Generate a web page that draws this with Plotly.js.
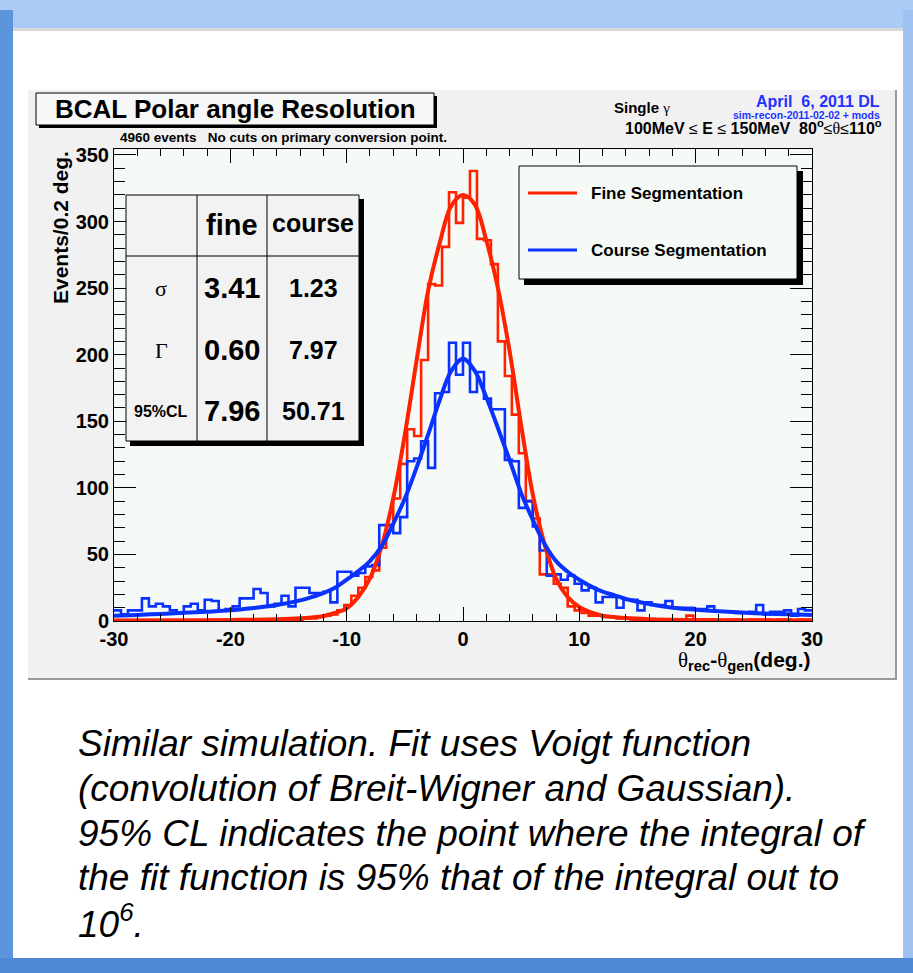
<!DOCTYPE html>
<html><head><meta charset="utf-8">
<script src="https://cdn.plot.ly/plotly-3.0.1.min.js"></script>
<style>html,body{margin:0;padding:0;background:#fff;}#chart{width:913px;height:973px;}</style>
</head><body><div id="chart"></div>
<script>
// ---- data ----
const binStart = -30;      // first bin lower edge (deg)
const binWidth = 0.6;      // bin width (deg)
const fineCounts = [
  0,0,0,0,0,0,0,0,0,0, 0,0,0,0,0,0,0,1,0,1,
  1,0,1,1,1,1,1,2,2,3, 4,5,8,12,19,25,33,38,55,72,
  92,118,144,139,196,253,252,281,322,299, 318,338,287,286,268,210,184,155,126,90,
  77,35,35,28,25,11,8,6,4,4, 3,3,2,2,1,1,1,0,1,1,
  0,1,4,1,0,1,1,0,1,1, 0,1,1,1,0,1,1,0,1,1];
const courseCounts = [
  8,5,8,8,17,11,13,11,8,6, 11,13,8,16,15,8,9,11,17,17,
  24,21,11,13,19,11,25,25,21,21, 22,14,37,37,34,36,41,42,72,72,
  66,78,120,122,135,115,171,172,209,185, 209,172,187,167,159,159,121,120,85,90,
  71,53,34,35,31,34,28,23,25,14, 18,18,10,16,16,8,14,12,12,15,
  10,10,10,9,9,11,7,7,7,6, 6,7,12,5,7,7,8,4,9,8];
const fineFitX = [-30,-25,-20,-16,-14,-13,-12,-11,-10,-9,-8,-7,-6,-5,-4,-3,-2,-1,0,1,2,3,4,5,6,7,8,9,10,11,12,13,14,16,20,25,30];
const fineFitY = [0.3,0.5,0.8,1.3,2,2.7,3.8,6,9.5,18,32,56,92,140,195,248,284,312,320,313,286,250,203,147,95,58,32,18,10.5,6.5,4,3,2.2,1.4,0.8,0.5,0.3];
const courseFitX = [-30,-28,-26,-24,-22,-20,-18,-16,-14,-13,-12,-11,-10,-9,-8,-7,-6,-5,-4,-3,-2,-1,0,1,2,3,4,5,6,7,8,9,10,11,12,13,14,16,18,20,22,24,26,28,30];
const courseFitY = [4,4.6,5.3,6.2,7,8,9.8,12,15.5,18,21,25,31,37.5,45,56,73,92,115,140,166,188,197,188,168,145,121,96,76,58,45,37,31,26,22,19.5,16.5,12.8,10,8.5,7.3,6.4,5.6,5,4.5];
const xTickVals = [-30, -20, -10, 0, 10, 20, 30];
const xTickText = ['-30', '-20', '-10', '0', '10', '20', '30'];
const tableCols = ['', 'fine', 'course'];
const tableRows = ['σ', 'Γ', '95%CL'];
const tableFine = ['3.41', '0.60', '7.96'];
const tableCourse = ['1.23', '7.97', '50.71'];
const seriesNames = ['Fine Segmentation', 'Course Segmentation'];

// ---- styling ----
const RED = '#ff2200', BLUE = '#0a32ff';
const SANS = 'Liberation Sans, Arial, Helvetica, sans-serif';
const SERIF = 'Liberation Serif, Times New Roman, serif';
const L = 114, R = 812, T = 149, B = 621;
const fx = x => (x - L) / (R - L), fy = y => (B - y) / (B - T);

function rect(x0, y0, x1, y1, fill, lc, lw, layer) {
  return {type:'rect', xref:'paper', yref:'paper', x0:fx(x0), x1:fx(x1), y0:fy(y1), y1:fy(y0),
    fillcolor:fill, line:{color:lc || 'rgba(0,0,0,0)', width:lc ? (lw || 1) : 0}, layer:layer || 'above'};
}
function seg(x0, y0, x1, y1, color, w, layer) {
  return {type:'line', xref:'paper', yref:'paper', x0:fx(x0), x1:fx(x1), y0:fy(y0), y1:fy(y1),
    line:{color:color, width:w || 1}, layer:layer || 'above'};
}
function txt(x, y, text, size, o) {
  o = o || {};
  return {xref:'paper', yref:'paper', x:fx(x), y:fy(y), text:text, showarrow:false,
    xanchor:o.xa || 'center', yanchor:o.ya || 'middle', textangle:o.angle || 0,
    font:{family:o.family || SANS, size:size, color:o.color || '#000', weight:o.weight || 'normal', style:o.style || 'normal'}};
}

function lastRepeat(a) { return a.concat([a[a.length - 1]]); }

const traces = [
  {type:'scatter', mode:'lines', x0:binStart, dx:binWidth, y:lastRepeat(fineCounts), name:seriesNames[0],
   line:{shape:'hv', color:RED, width:2.6}, showlegend:false, hoverinfo:'skip'},
  {type:'scatter', mode:'lines', x0:binStart, dx:binWidth, y:lastRepeat(courseCounts), name:seriesNames[1],
   line:{shape:'hv', color:BLUE, width:2.6}, showlegend:false, hoverinfo:'skip'},
  {type:'scatter', mode:'lines', x:fineFitX, y:fineFitY, name:seriesNames[0] + ' fit',
   line:{shape:'spline', smoothing:1, color:RED, width:4}, showlegend:false, hoverinfo:'skip'},
  {type:'scatter', mode:'lines', x:courseFitX, y:courseFitY, name:seriesNames[1] + ' fit',
   line:{shape:'spline', smoothing:1, color:BLUE, width:4}, showlegend:false, hoverinfo:'skip'}
];

const shapes = [
  // slide frame
  rect(0, 0, 913, 973, '#ffffff', null, 0, 'below'),
  rect(0, 0, 913, 28, '#a9cbf6', null, 0, 'below'),
  rect(0, 10, 13, 973, '#5d95dc', null, 0, 'below'),
  rect(903, 10, 913, 973, '#9fc2f2', null, 0, 'below'),
  rect(0, 958, 913, 973, '#4e88d4', null, 0, 'below'),
  rect(13, 28, 903, 31, '#d8d8d8', null, 0, 'below'),
  // ROOT canvas
  rect(28, 90, 897, 680, '#f1f1f1', null, 0, 'below'),
  seg(28, 679, 897, 679, '#9a9a9a', 2, 'below'),
  seg(896, 90, 896, 680, '#9a9a9a', 2, 'below'),
  // frame fill
  rect(L, T, R, B, '#f6faf7', null, 0, 'below'),
  // title box
  rect(39, 96, 437, 128, '#000000', null, 0, 'above'),
  rect(36, 93, 434, 125, '#f7f7f7', '#000000', 1, 'above'),
  // table box
  rect(130, 199, 364, 446, '#000000', null, 0, 'above'),
  rect(126, 195, 359, 441, '#f2f2f2', '#000000', 1, 'above'),
  seg(197, 195, 197, 441, '#000000', 1),
  seg(267, 195, 267, 441, '#000000', 1),
  seg(126, 256, 359, 256, '#000000', 1),
  // legend box
  rect(524, 171, 803, 285, '#000000', null, 0, 'above'),
  rect(519, 166, 797, 279, '#f6faf7', '#000000', 1, 'above'),
  seg(528, 193, 577, 193, RED, 3),
  seg(528, 250, 577, 250, BLUE, 3)
];

const ann = [
  txt(235, 109, 'BCAL Polar angle Resolution', 26, {weight:'bold'}),
  txt(118, 137, '4960 events\u00a0\u00a0\u00a0No cuts on primary conversion point.', 13.5, {xa:'left', weight:'bold'}),
  txt(612, 107, 'Single <span style="font-family:Liberation Serif;font-weight:normal">γ</span>', 15, {xa:'left', weight:'bold'}),
  txt(882, 102, 'April\u00a0 6, 2011 DL', 16, {xa:'right', weight:'bold', color:'#2233ff'}),
  txt(882, 115, 'sim-recon-2011-02-02 + mods', 10.5, {xa:'right', weight:'bold', color:'#2233ff'}),
  txt(884, 127, '100MeV <span style="font-weight:normal">≤</span> E <span style="font-weight:normal">≤</span> 150MeV\u00a0 80<sup>o</sup><span style="font-weight:normal">≤</span><span style="font-family:Liberation Serif;font-weight:normal">θ</span><span style="font-weight:normal">≤</span>110<sup>o</sup>', 16, {xa:'right', weight:'bold'}),
  // axis titles
  txt(60, 228, 'Events/0.2 deg.', 21, {angle:-90, weight:'bold'}),
  txt(812, 661, '<span style="font-family:Liberation Serif;font-weight:normal">θ</span><sub>rec</sub>-<span style="font-family:Liberation Serif;font-weight:normal">θ</span><sub>gen</sub>(deg.)', 21, {xa:'right', weight:'bold'}),
  // table
  txt(232, 225, tableCols[1], 29, {weight:'bold'}),
  txt(313, 223, tableCols[2], 25, {weight:'bold'}),
  txt(161, 288, tableRows[0], 22, {family:SERIF}),
  txt(161, 350, tableRows[1], 22, {family:SERIF}),
  txt(161, 411, tableRows[2], 16, {weight:'bold'}),
  txt(232, 288, tableFine[0], 29, {weight:'bold'}),
  txt(232, 350, tableFine[1], 29, {weight:'bold'}),
  txt(232, 411, tableFine[2], 29, {weight:'bold'}),
  txt(313, 288, tableCourse[0], 25, {weight:'bold'}),
  txt(313, 350, tableCourse[1], 25, {weight:'bold'}),
  txt(313, 411, tableCourse[2], 25, {weight:'bold'}),
  // legend text
  txt(589, 193, seriesNames[0], 17, {xa:'left', weight:'bold'}),
  txt(589, 250, seriesNames[1], 17, {xa:'left', weight:'bold'}),
  // caption
  txt(76, 743, 'Similar simulation. Fit uses Voigt function', 37, {xa:'left', style:'italic'}),
  txt(76, 788, '(convolution of Breit-Wigner and Gaussian).', 37, {xa:'left', style:'italic'}),
  txt(76, 833, '95% CL indicates the point where the integral of', 37, {xa:'left', style:'italic'}),
  txt(76, 877, 'the fit function is 95% that of the integral out to', 37, {xa:'left', style:'italic'}),
  txt(76, 921, '10<sup>6</sup>.', 37, {xa:'left', style:'italic'})
];

const tickFont = {family:SANS, size:20, color:'#000', weight:'bold'};
const layout = {
  width:913, height:973,
  margin:{l:L, r:913 - R, t:T, b:973 - B, autoexpand:false},
  paper_bgcolor:'#ffffff', plot_bgcolor:'#f6faf7',
  showlegend:false,
  xaxis:{range:[-30, 30], tickmode:'array', tickvals:xTickVals, ticktext:xTickText,
    ticks:'inside', ticklen:14, tickwidth:1, tickcolor:'#000',
    showline:true, linecolor:'#000', linewidth:1, mirror:'ticks', showgrid:false, zeroline:false,
    tickfont:tickFont, fixedrange:true,
    minor:{dtick:2, tick0:0, ticks:'inside', ticklen:7, tickcolor:'#000', tickwidth:1, showgrid:false}},
  yaxis:{range:[0, 354.5], tick0:0, dtick:50, ticks:'inside', ticklen:22, tickwidth:1, tickcolor:'#000',
    showline:true, linecolor:'#000', linewidth:1, mirror:'ticks', showgrid:false, zeroline:false,
    tickfont:tickFont, fixedrange:true,
    minor:{dtick:10, ticks:'inside', ticklen:11, tickcolor:'#000', tickwidth:1, showgrid:false}},
  shapes:shapes,
  annotations:ann
};
Plotly.newPlot('chart', traces, layout, {displayModeBar:false, staticPlot:true});
</script>
</body></html>
